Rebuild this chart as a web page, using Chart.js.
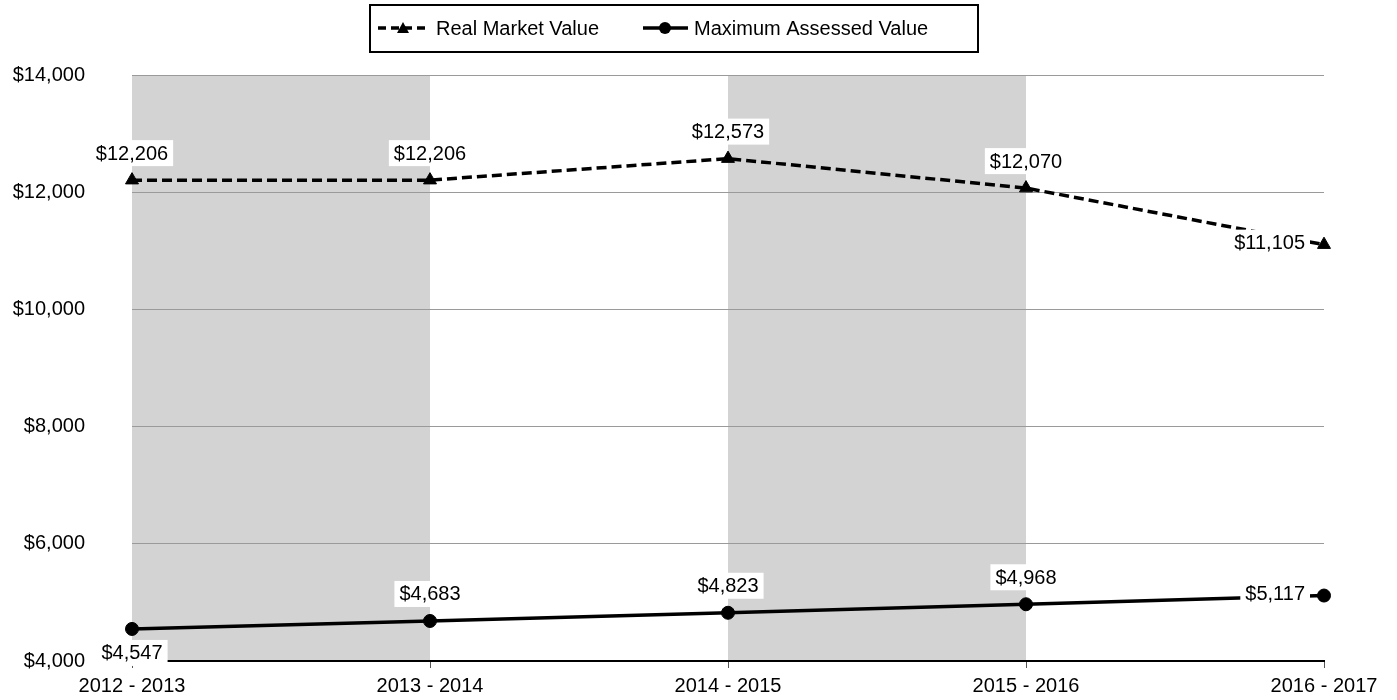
<!DOCTYPE html>
<html>
<head>
<meta charset="utf-8">
<script src="https://cdn.jsdelivr.net/npm/chart.js@4/dist/chart.umd.min.js"></script>
<style>
  html, body { margin: 0; padding: 0; background: #fff; }
  #wrap { width: 1397px; height: 700px; position: relative; }
</style>
</head>
<body>
<div id="wrap"><canvas id="chart" width="1397" height="700"></canvas></div>
<script>
const categories = ["2012 - 2013", "2013 - 2014", "2014 - 2015", "2015 - 2016", "2016 - 2017"];
const realMarketValue = [12206, 12206, 12573, 12070, 11105];
const maxAssessedValue = [4547, 4683, 4823, 4968, 5117];
const yTickValues = [4000, 6000, 8000, 10000, 12000, 14000];
const seriesNames = ["Real Market Value", "Maximum Assessed Value"];

// where each data label sits relative to its point
const realLabelSide = ["above", "above", "above", "above", "left"];
const maxLabelSide = ["below", "above", "above", "above", "left"];

const FONT = '"Liberation Sans", Arial, sans-serif';
const money = v => "$" + v.toLocaleString("en-US");

// shaded bands behind every other category span
const bandPlugin = {
  id: "bands",
  beforeDraw(chart) {
    const { ctx, chartArea, scales } = chart;
    ctx.save();
    ctx.fillStyle = "#d3d3d3";
    for (let i = 0; i < categories.length - 1; i += 2) {
      const x0 = scales.x.getPixelForValue(i);
      const x1 = scales.x.getPixelForValue(i + 1);
      ctx.fillRect(x0, chartArea.top, x1 - x0, chartArea.bottom - chartArea.top);
    }
    ctx.restore();
  }
};

const labelPlugin = {
  id: "pointLabels",
  afterDatasetsDraw(chart) {
    const ctx = chart.ctx;
    ctx.save();
    ctx.font = "20px " + FONT;
    ctx.textAlign = "center";
    ctx.textBaseline = "middle";
    chart.data.datasets.forEach((ds, i) => {
      const meta = chart.getDatasetMeta(i);
      meta.data.forEach((pt, j) => {
        const text = money(ds.data[j]);
        const w = ctx.measureText(text).width;
        let cx = pt.x, cy = pt.y;
        const side = ds.labelSide[j];
        if (side === "above") cy = pt.y - 27;
        else if (side === "below") cy = pt.y + 24;
        else { cx = pt.x - 19 - w / 2; cy = pt.y - 2; }
        ctx.fillStyle = "#fff";
        ctx.fillRect(cx - w / 2 - 5, cy - 13, w + 10, 26);
        ctx.fillStyle = "#000";
        ctx.fillText(text, cx, cy + 1);
      });
    });
    ctx.restore();
  }
};

// boxed legend at the top
const legendPlugin = {
  id: "boxLegend",
  afterDraw(chart) {
    const ctx = chart.ctx;
    const y = 28;
    ctx.save();
    ctx.lineWidth = 2;
    ctx.strokeStyle = "#000";
    ctx.strokeRect(370, 5, 608, 47);

    ctx.lineWidth = 3.5;
    ctx.setLineDash([8, 5]);
    ctx.beginPath();
    ctx.moveTo(378, y);
    ctx.lineTo(428, y);
    ctx.stroke();
    ctx.setLineDash([]);
    ctx.fillStyle = "#000";
    ctx.beginPath();
    ctx.moveTo(403, y - 6);
    ctx.lineTo(409, y + 5);
    ctx.lineTo(397, y + 5);
    ctx.closePath();
    ctx.fill();

    ctx.beginPath();
    ctx.moveTo(643, y);
    ctx.lineTo(688, y);
    ctx.stroke();
    ctx.beginPath();
    ctx.arc(665, y, 6, 0, Math.PI * 2);
    ctx.fill();

    ctx.font = "20px " + FONT;
    ctx.textBaseline = "middle";
    ctx.textAlign = "left";
    ctx.fillText(seriesNames[0], 436, y + 1);
    ctx.fillText(seriesNames[1], 694, y + 1);
    ctx.restore();
  }
};

new Chart(document.getElementById("chart"), {
  type: "line",
  data: {
    labels: categories,
    datasets: [
      {
        label: seriesNames[0],
        data: realMarketValue,
        labelSide: realLabelSide,
        borderColor: "#000",
        backgroundColor: "#000",
        borderWidth: 3.5,
        borderDash: [10, 5],
        pointStyle: "triangle",
        pointRadius: 7.5,
        pointBorderWidth: 1,
        tension: 0,
        clip: false
      },
      {
        label: seriesNames[1],
        data: maxAssessedValue,
        labelSide: maxLabelSide,
        borderColor: "#000",
        backgroundColor: "#000",
        borderWidth: 3.5,
        pointStyle: "circle",
        pointRadius: 6.5,
        pointBorderWidth: 1,
        tension: 0,
        clip: false
      }
    ]
  },
  options: {
    responsive: false,
    animation: false,
    layout: { padding: { left: 0, right: 73, top: 75, bottom: 0 } },
    plugins: {
      legend: { display: false },
      tooltip: { enabled: false }
    },
    scales: {
      x: {
        offset: false,
        z: 1,
        afterFit: s => { s.height = 39; },
        grid: { drawOnChartArea: false, drawTicks: true, tickLength: 7, tickColor: "#555" },
        border: { display: true, color: "#000", width: 2 },
        ticks: { color: "#000", font: { family: FONT, size: 20 }, padding: 6, maxRotation: 0 }
      },
      y: {
        min: yTickValues[0],
        max: yTickValues[yTickValues.length - 1],
        afterFit: s => { s.width = 132; },
        afterBuildTicks: s => { s.ticks = yTickValues.map(v => ({ value: v })); },
        // invisible tick marks push the labels away from the plot
        grid: { color: "#9a9a9a", lineWidth: 1, drawTicks: true, tickLength: 45, tickColor: "rgba(0,0,0,0)" },
        border: { display: false },
        ticks: {
          color: "#000",
          font: { family: FONT, size: 20 },
          padding: 2,
          callback: v => money(v)
        }
      }
    }
  },
  plugins: [bandPlugin, labelPlugin, legendPlugin]
});
</script>
</body>
</html>
